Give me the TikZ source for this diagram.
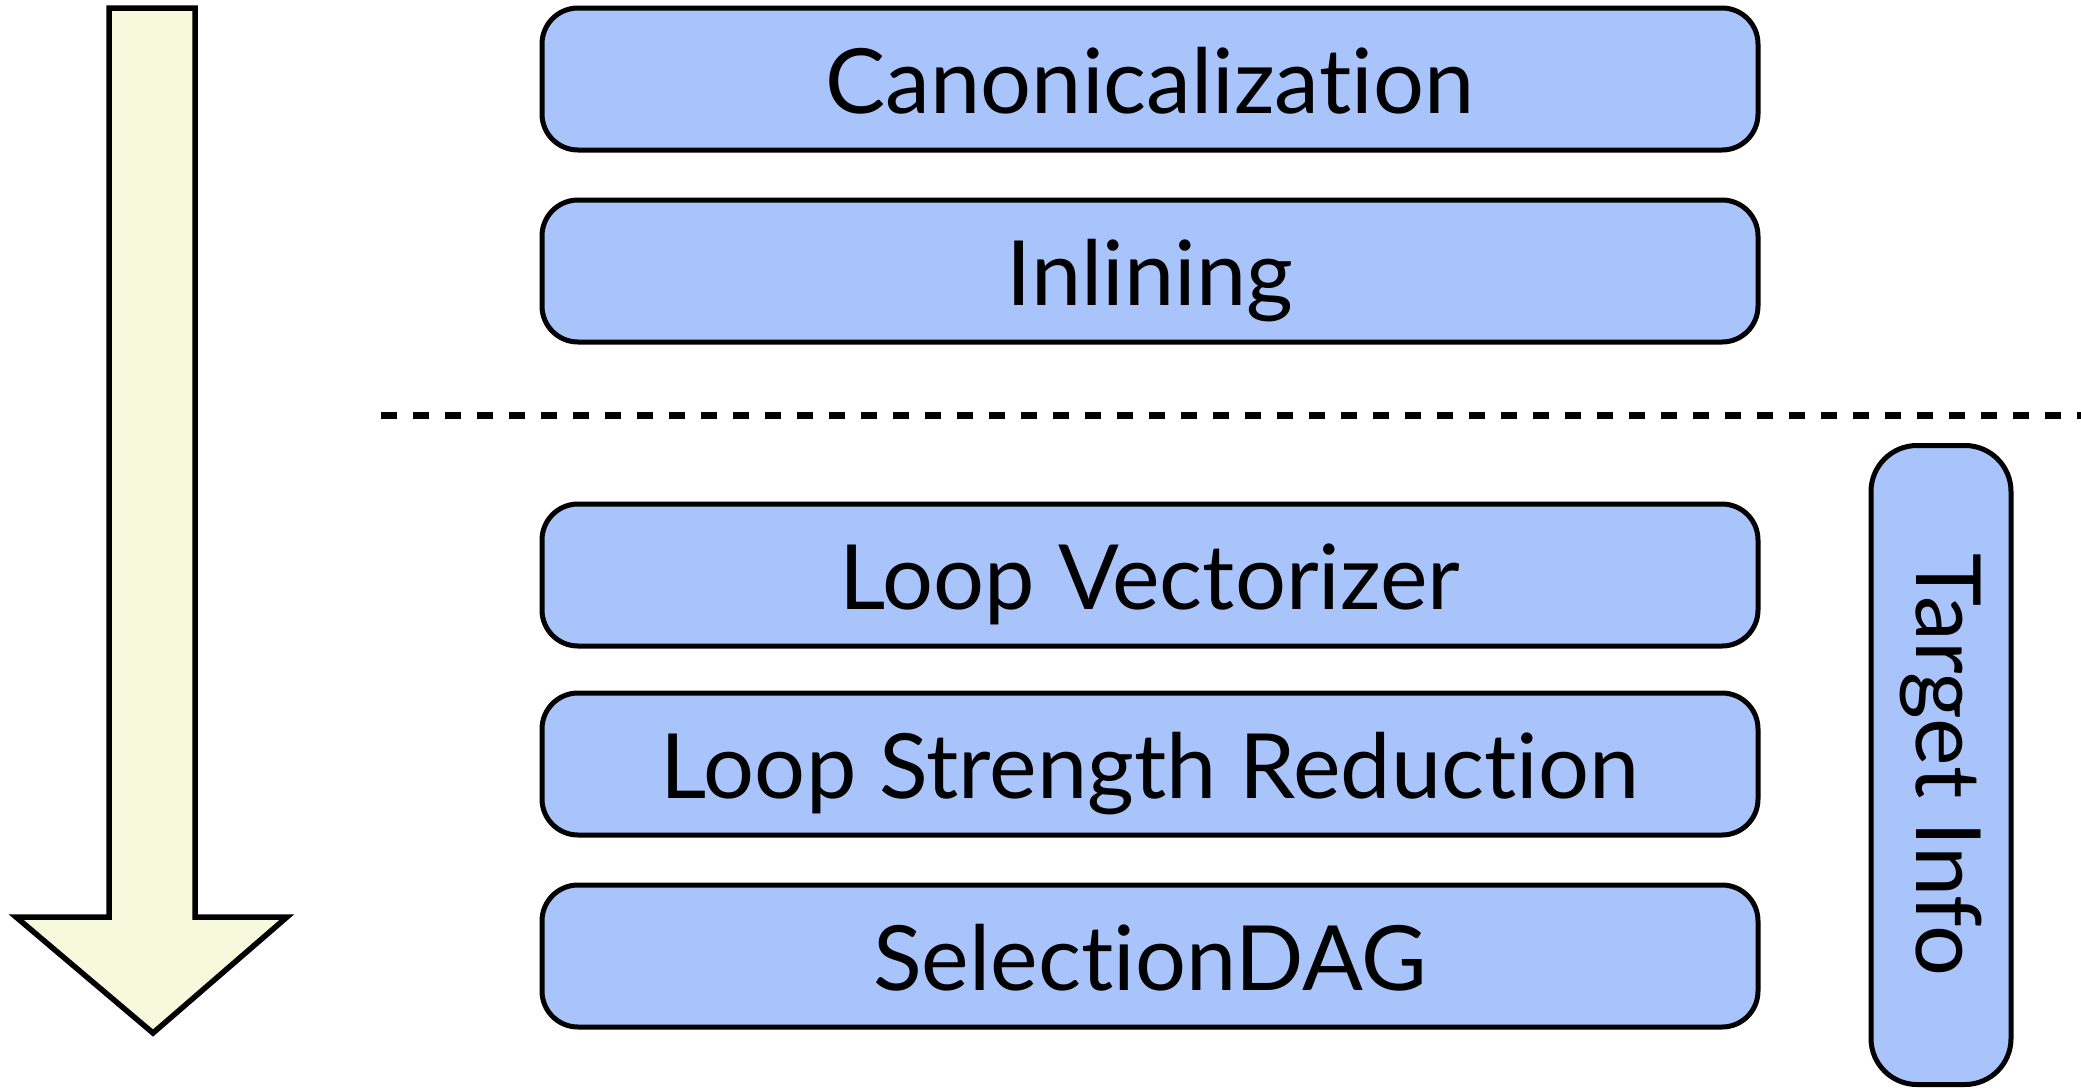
\documentclass[tikz,border=0pt]{standalone}
\usepackage{fontspec}
\setmainfont[Ligatures={NoCommon}]{Lato}
\definecolor{boxblue}{RGB}{168,196,250}
\definecolor{arrowfill}{RGB}{248,249,220}
\tikzset{
  pass/.style={draw=black, line width=5pt, fill=boxblue, rounded corners=36pt,
    minimum width=1216pt, minimum height=142pt, inner sep=0pt},
  lbl/.style={anchor=base, inner sep=0pt, font=\fontsize{90}{100}\selectfont},
}
\begin{document}
\begin{tikzpicture}[x=1pt,y=-1pt]
\useasboundingbox (0,0) rectangle (2081,1088);
% big arrow
\draw[line width=5.5pt, fill=arrowfill, line join=miter]
  (109,8) -- (195,8) -- (195,917) -- (287,917) -- (153,1033) -- (16,917) -- (109,917) -- cycle;
% passes
\node[pass] (canon) at (1150,79) {};
\node[pass] (inl) at (1150,271) {};
\node[pass] (lv) at (1150,575) {};
\node[pass] (lsr) at (1150,764) {};
\node[pass] (sdag) at (1150,956) {};
\node[lbl] (tcanon) at (1150,113) {Canonicalization};
\node[lbl] (tinl) at (1150,305) {Inlining};
\node[lbl] (tlv) at (1150,609) {Loop Vectorizer};
\node[lbl] (tlsr) at (1150,798) {Loop Strength Reduction};
\node[lbl] (tsdag) at (1150,990) {SelectionDAG};
% target info
\node[draw=black, line width=5pt, fill=boxblue, rounded corners=46pt,
  minimum width=140pt, minimum height=639pt, inner sep=0pt] (ti) at (1941,765) {};
\node[lbl, anchor=center, rotate=-90] (tti) at (ti.center) {Target Info};
% separator
\coordinate (dl) at (381,415);
\coordinate (dr) at (2081,415);
\draw[line width=7pt, dash pattern=on 16pt off 16pt] (dl) -- (dr);
\end{tikzpicture}
\end{document}
